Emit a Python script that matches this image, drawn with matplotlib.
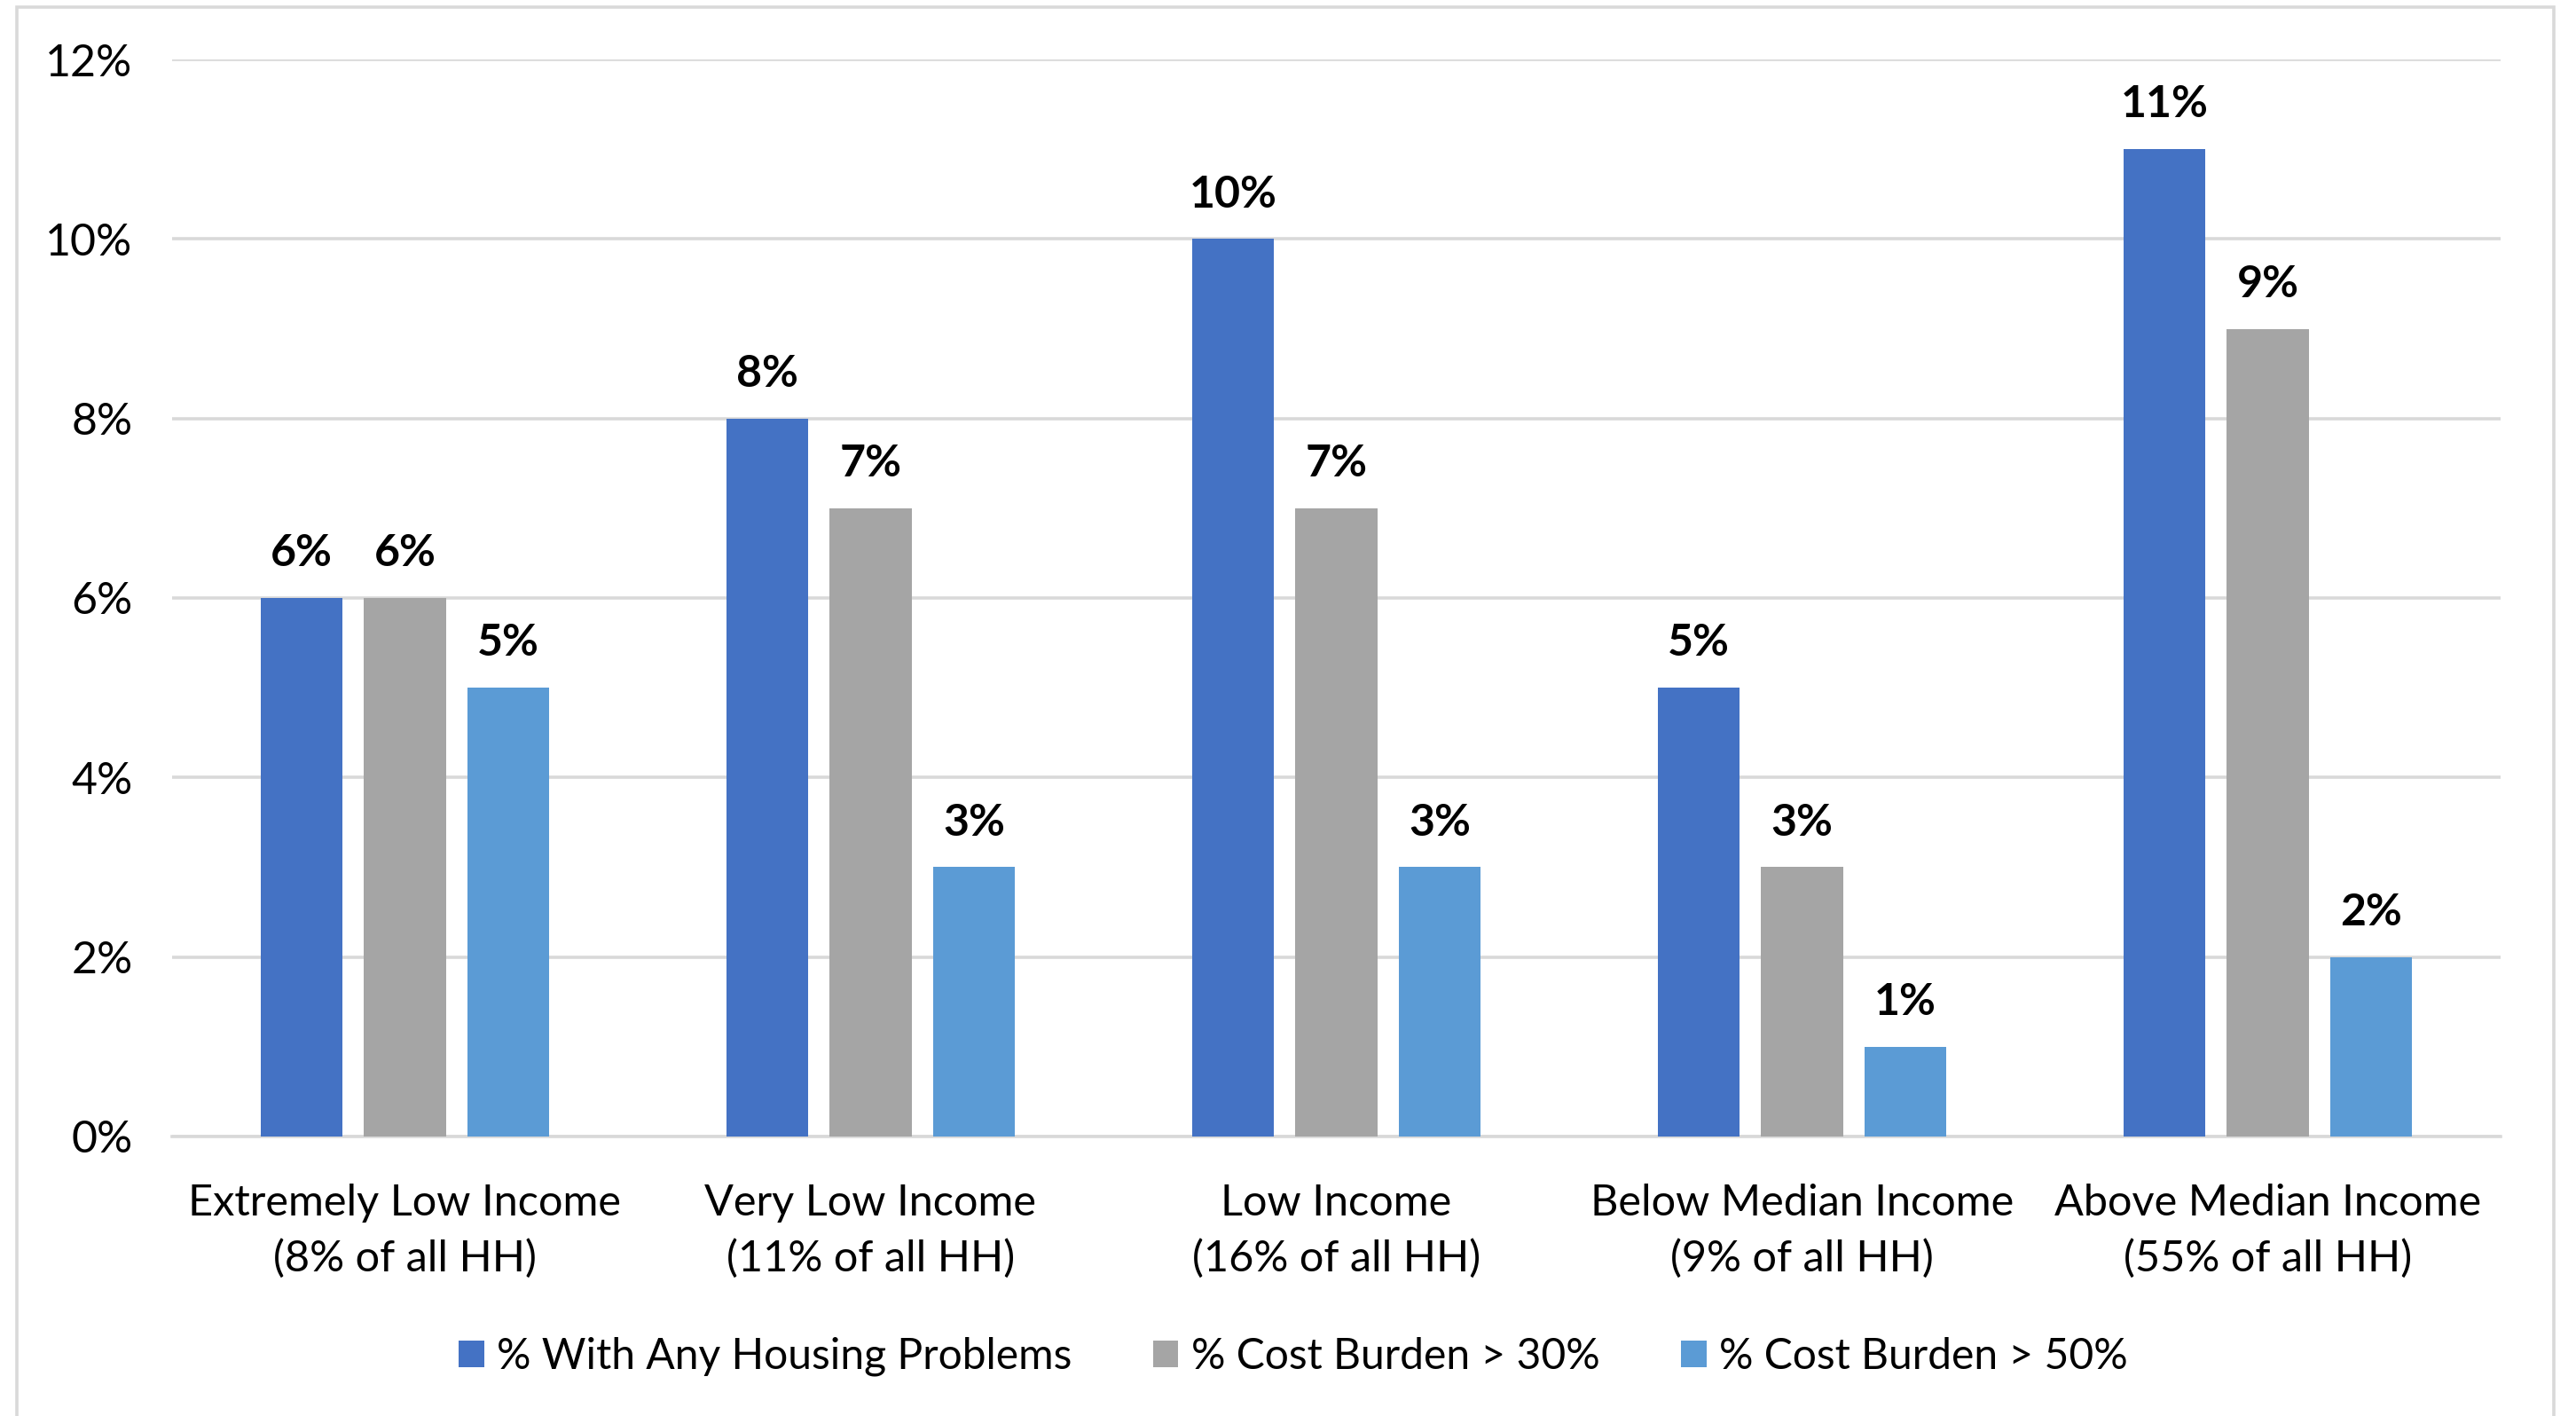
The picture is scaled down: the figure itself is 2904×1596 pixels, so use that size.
import matplotlib.pyplot as plt
from matplotlib.patches import Rectangle
import numpy as np

plt.rcParams['font.family'] = ['Lato', 'DejaVu Sans']

# Household income categories and shares of households with problems
categories = ['Extremely Low Income\n(8% of all HH)',
              'Very Low Income\n(11% of all HH)',
              'Low Income\n(16% of all HH)',
              'Below Median Income\n(9% of all HH)',
              'Above Median Income\n(55% of all HH)']
any_problems = [6, 8, 10, 5, 11]
burden_30 = [6, 7, 7, 3, 9]
burden_50 = [5, 3, 3, 1, 2]

series_names = ['% With Any Housing Problems', '% Cost Burden > 30%', '% Cost Burden > 50%']
series_colors = ['#4472C4', '#A5A5A5', '#5B9BD5']
yticks = [0, 2, 4, 6, 8, 10, 12]

fs = 17.5
fig = plt.figure(figsize=(14.52, 7.98), dpi=200)
ax = fig.add_axes([0.0668, 0.1974, 0.9039, 0.7606])

# outer chart border
fig.patches.append(Rectangle((0.0065, -0.01), 0.985, 1.005, transform=fig.transFigure,
                             fill=False, edgecolor='#D9D9D9', linewidth=1.3))

x = np.arange(len(categories))
width = 0.176
step = 0.222
for i, (vals, name, col) in enumerate(zip([any_problems, burden_30, burden_50],
                                          series_names, series_colors)):
    bars = ax.bar(x + (i - 1) * step, vals, width, color=col, label=name, zorder=3)
    for b, v in zip(bars, vals):
        ax.annotate('{}%'.format(v), (b.get_x() + b.get_width() / 2, v),
                    xytext=(0, 10), textcoords='offset points',
                    ha='center', va='bottom', fontsize=18, fontweight='bold')

ax.set_xlim(-0.5, len(categories) - 0.5)
ax.set_ylim(0, 12)
ax.set_yticks(yticks)
ax.set_yticklabels(['{}%'.format(t) for t in yticks], fontsize=18)
ax.set_xticks(x)
ax.set_xticklabels(categories, fontsize=fs, linespacing=1.5)
ax.tick_params(axis='y', length=0, pad=16)
ax.tick_params(axis='x', length=0, pad=19)
ax.grid(axis='y', color='#D9D9D9', linewidth=1.3, zorder=0)
for s in ['top', 'right', 'left']:
    ax.spines[s].set_visible(False)
ax.spines['bottom'].set_color('#D9D9D9')
ax.spines['bottom'].set_linewidth(1.3)

fig.legend(loc='center', bbox_to_anchor=(0.502, 0.042), ncol=3, frameon=False,
           fontsize=17.3, handlelength=0.6, handleheight=0.6, handletextpad=0.3,
           columnspacing=1.9)

fig.savefig('out.png', dpi=200)
